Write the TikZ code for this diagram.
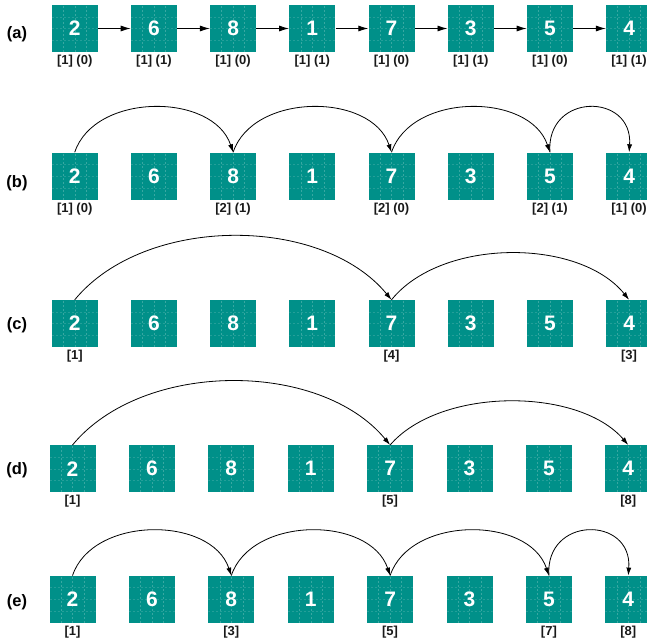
\documentclass[tikz,border=0pt]{standalone}
\usepackage{fontspec}
\setmainfont{Liberation Sans}
\usetikzlibrary{arrows.meta,calc}

\definecolor{cellteal}{RGB}{0,144,137}

\tikzset{
  cell/.style={
    draw=none, fill=cellteal, text=white, inner sep=0pt,
    minimum width=46pt, minimum height=47pt,
    font=\fontsize{21}{21}\selectfont\bfseries,
    path picture={
      \foreach \f in {0.25,0.5,0.75}{
        \draw[white, opacity=0.22, line width=0.4pt, dash pattern=on 2pt off 2pt]
          ($(path picture bounding box.south west)!\f!(path picture bounding box.south east)$) --
          ($(path picture bounding box.north west)!\f!(path picture bounding box.north east)$);
        \draw[white, opacity=0.14, line width=0.4pt, dash pattern=on 2pt off 2pt]
          ($(path picture bounding box.south west)!\f!(path picture bounding box.north west)$) --
          ($(path picture bounding box.south east)!\f!(path picture bounding box.north east)$);
      }
    }
  },
  lab/.style={font=\fontsize{13}{13}\selectfont\bfseries, text=black!90, inner sep=0pt},
  rowlab/.style={font=\fontsize{16.5}{16.5}\selectfont\bfseries, inner sep=0pt},
  link/.style={line width=0.8pt, -{Latex[length=8pt,width=5pt]}},
  chain/.style={line width=0.9pt, -{Latex[length=10pt,width=6pt]}},
}

\begin{document}
\begin{tikzpicture}[x=1pt, y=-1pt]
\useasboundingbox (0,0) rectangle (647,643);

% row labels
\node[rowlab] (ra) at (17,34)  {(a)};
\node[rowlab] (rb) at (17,183) {(b)};
\node[rowlab] (rc) at (17,325) {(c)};
\node[rowlab] (rd) at (17,470) {(d)};
\node[rowlab] (re) at (17,602) {(e)};

% the five rows of cells
\foreach \v [count=\i] in {2,6,8,1,7,3,5,4}{
  \node[cell] (a\i) at ({74.7+79.2*(\i-1)},28.5)  {\v};
  \node[cell] (b\i) at ({74.7+79.2*(\i-1)},176)   {\v};
  \node[cell] (c\i) at ({74.7+79.2*(\i-1)},323.5) {\v};
  \node[cell] (d\i) at ({72.5+79.4*(\i-1)},468.7) {\v};
  \node[cell] (e\i) at ({72.5+79.4*(\i-1)},599.3) {\v};
}

% (a) linked list
\foreach \i [evaluate=\i as \j using int(\i+1)] in {1,...,7}{
  \draw[chain] (a\i) -- (a\j);
}
\foreach \t [count=\i] in {{[1] (0)},{[1] (1)},{[1] (0)},{[1] (1)},{[1] (0)},{[1] (1)},{[1] (0)},{[1] (1)}}{
  \node[lab] (la\i) at ($(a\i.south)+(0,9)$) {\t};
}

% (b)
\draw[link] (b1.north) .. controls +(20,-60) and +(-20,-60) .. (b3.north);
\draw[link] (b3.north) .. controls +(20,-60) and +(-20,-60) .. (b5.north);
\draw[link] (b5.north) .. controls +(20,-60) and +(-20,-60) .. (b7.north);
\draw[link] (b7.north) .. controls +(-4,-60) and +(4,-60) .. (b8.north);
\node[lab] (lb1) at ($(b1.south)+(0,9)$) {[1] (0)};
\node[lab] (lb3) at ($(b3.south)+(0,9)$) {[2] (1)};
\node[lab] (lb5) at ($(b5.south)+(0,9)$) {[2] (0)};
\node[lab] (lb7) at ($(b7.south)+(0,9)$) {[2] (1)};
\node[lab] (lb8) at ($(b8.south)+(0,9)$) {[1] (0)};

% (c)
\draw[link] (c1.north) .. controls +(70,-85) and +(-70,-85) .. (c5.north);
\draw[link] (c5.north) .. controls +(50,-62) and +(-50,-62) .. (c8.north);
\node[lab] (lc1) at ($(c1.south)+(0,9)$) {[1]};
\node[lab] (lc5) at ($(c5.south)+(0,9)$) {[4]};
\node[lab] (lc8) at ($(c8.south)+(0,9)$) {[3]};

% (d)
\draw[link] (d1.north) .. controls +(70,-85) and +(-70,-85) .. (d5.north);
\draw[link] (d5.north) .. controls +(50,-58) and +(-50,-58) .. (d8.north);
\node[lab] (ld1) at ($(d1.south)+(0,9)$) {[1]};
\node[lab] (ld5) at ($(d5.south)+(0,9)$) {[5]};
\node[lab] (ld8) at ($(d8.south)+(0,9)$) {[8]};

% (e)
\draw[link] (e1.north) .. controls +(20,-60) and +(-20,-60) .. (e3.north);
\draw[link] (e3.north) .. controls +(20,-60) and +(-20,-60) .. (e5.north);
\draw[link] (e5.north) .. controls +(20,-60) and +(-20,-60) .. (e7.north);
\draw[link] (e7.north) .. controls +(-4,-60) and +(4,-60) .. (e8.north);
\node[lab] (le1) at ($(e1.south)+(0,9)$) {[1]};
\node[lab] (le3) at ($(e3.south)+(0,9)$) {[3]};
\node[lab] (le5) at ($(e5.south)+(0,9)$) {[5]};
\node[lab] (le7) at ($(e7.south)+(0,9)$) {[7]};
\node[lab] (le8) at ($(e8.south)+(0,9)$) {[8]};
\end{tikzpicture}
\end{document}
